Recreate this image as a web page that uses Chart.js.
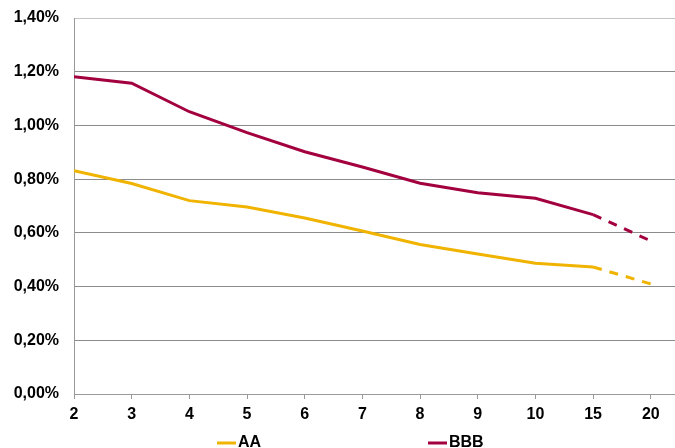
<!DOCTYPE html>
<html>
<head>
<meta charset="utf-8">
<script src="https://cdn.jsdelivr.net/npm/chart.js@4"></script>
<style>
  html, body { margin: 0; padding: 0; background: #fff; }
  #wrap { width: 675px; height: 448px; }
</style>
</head>
<body>
<div id="wrap"><canvas id="chart" width="675" height="448"></canvas></div>
<script>
// Maturities (years) shown on the x axis
const maturities = ['2', '3', '4', '5', '6', '7', '8', '9', '10', '15', '20'];

// Spreads in percent
const aaValues = [0.831, 0.784, 0.720, 0.696, 0.655, 0.607, 0.557, 0.521, 0.487, 0.473, 0.410];
const bbbValues = [1.181, 1.157, 1.051, 0.973, 0.902, 0.845, 0.785, 0.749, 0.729, 0.668, 0.570];

const yTicks = [0, 0.2, 0.4, 0.6, 0.8, 1.0, 1.2, 1.4];

const seriesNames = ['AA', 'BBB'];
const seriesColors = ['#F0B400', '#A3003F'];

const FAMILY = '"Liberation Sans", Arial, sans-serif';
const FONT = 'bold 16px ' + FAMILY;

function toPoints(values) {
    return values.map((v, i) => ({ x: i, y: v }));
}

// dashed from 15 to 20
const dashLast = {
    borderDash: (ctx) => (ctx.p0DataIndex >= 9 ? [9, 8] : undefined),
};

// simple legend under the x axis, spaced like the original
const bottomLegend = {
    id: 'bottomLegend',
    afterDraw(chart) {
        const c = chart.ctx;
        const starts = [217, 428];
        c.save();
        c.font = FONT;
        c.textBaseline = 'middle';
        c.fillStyle = '#000';
        chart.data.datasets.forEach((ds, i) => {
            const x = starts[i];
            const y = 443;
            c.strokeStyle = ds.borderColor;
            c.lineWidth = 3;
            c.beginPath();
            c.moveTo(x, y);
            c.lineTo(x + 19, y);
            c.stroke();
            c.fillText(ds.label, x + 21, y);
        });
        c.restore();
    },
};

new Chart(document.getElementById('chart'), {
    type: 'line',
    data: {
        datasets: [
            {
                label: seriesNames[0],
                data: toPoints(aaValues),
                borderColor: seriesColors[0],
                borderWidth: 3,
                pointRadius: 0,
                tension: 0,
                segment: dashLast,
            },
            {
                label: seriesNames[1],
                data: toPoints(bbbValues),
                borderColor: seriesColors[1],
                borderWidth: 3,
                pointRadius: 0,
                tension: 0,
                segment: dashLast,
            },
        ],
    },
    options: {
        responsive: false,
        animation: false,
        layout: { padding: { top: 18, right: 0, bottom: 0, left: 0 } },
        plugins: {
            legend: { display: false },
            tooltip: { enabled: false },
        },
        scales: {
            x: {
                type: 'linear',
                min: 0,
                max: 10.42,
                afterFit: (scale) => {
                    scale.height = 54;
                    scale.paddingLeft = 0;
                    scale.paddingRight = 0;
                },
                afterBuildTicks: (scale) => {
                    scale.ticks = maturities.map((m, i) => ({ value: i }));
                },
                ticks: {
                    color: '#000',
                    font: { family: FAMILY, size: 16, weight: 'bold' },
                    padding: 6,
                    maxRotation: 0,
                    autoSkip: false,
                    callback: (v) => maturities[v],
                },
                grid: {
                    drawOnChartArea: false,
                    drawTicks: true,
                    tickLength: 5,
                    color: '#999',
                },
                border: { color: '#999', width: 1 },
            },
            y: {
                min: 0,
                max: 1.4,
                afterFit: (scale) => {
                    scale.width = 74;
                    scale.paddingTop = 0;
                    scale.paddingBottom = 0;
                },
                afterBuildTicks: (scale) => {
                    scale.ticks = yTicks.map((v) => ({ value: v }));
                },
                ticks: {
                    color: '#000',
                    font: { family: FAMILY, size: 16, weight: 'bold' },
                    padding: 15,
                    callback: (v) => v.toFixed(2).replace('.', ',') + '%',
                },
                grid: {
                    drawTicks: false,
                    color: (ctx) => (ctx.index === yTicks.length - 1 ? '#c4c4c4' : '#8c8c8c'),
                    lineWidth: 1,
                },
                border: { color: '#999', width: 1 },
            },
        },
    },
    plugins: [bottomLegend],
});
</script>
</body>
</html>
